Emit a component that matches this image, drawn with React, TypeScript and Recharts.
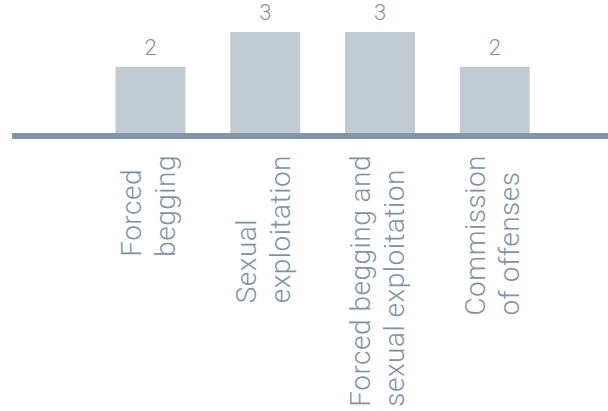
import { Bar, BarChart, LabelList, XAxis, YAxis } from 'recharts';

const categories = [
  ['Forced', 'begging'],
  ['Sexual', 'exploitation'],
  ['Forced begging and', 'sexual exploitation'],
  ['Commission', 'of offenses'],
];
const victims = [2, 3, 3, 2];

const data = categories.map((lines, i) => ({ name: lines.join(' '), lines, value: victims[i] }));

const BAR_COLOR = '#c1cbd4';
const AXIS_COLOR = '#8296a9';
const TEXT_COLOR = '#8093a6';
const LABEL_SIZE = 28;
const LABEL_SPACING = 0.5;

let ctx: CanvasRenderingContext2D | null = null;
const measure = (text: string) => {
  if (!ctx) ctx = document.createElement('canvas').getContext('2d');
  if (!ctx) return text.length * 14;
  ctx.font = `300 ${LABEL_SIZE}px Roboto`;
  return ctx.measureText(text).width + text.length * LABEL_SPACING;
};

const CategoryTick = (props: any) => {
  const { x, y, index } = props;
  const lines = categories[index] ?? [];
  const longest = Math.max(...lines.map(measure));
  return (
    <g transform={`translate(${x},${y}) rotate(-90)`}>
      {lines.map((line, i) => (
        <text
          key={line}
          x={-longest}
          y={-10 + i * 34}
          textAnchor="start"
          fill={TEXT_COLOR}
          fontFamily="Roboto"
          fontWeight={300}
          fontSize={LABEL_SIZE}
          letterSpacing={LABEL_SPACING}
        >
          {line}
        </text>
      ))}
    </g>
  );
};

export default function App() {
  return (
    <div style={{ position: 'absolute', left: 0, top: 0 }}>
      <BarChart width={608} height={411} data={data} margin={{ top: 32, right: 0, left: 12, bottom: 0 }}>
        <YAxis hide domain={[0, 3]} />
        <Bar dataKey="value" fill={BAR_COLOR} barSize={70} isAnimationActive={false}>
          <LabelList
            dataKey="value"
            position="top"
            offset={12}
            fill={TEXT_COLOR}
            fontFamily="Roboto"
            fontWeight={300}
            fontSize={22}
          />
        </Bar>
        <XAxis
          dataKey="name"
          height={275}
          padding={{ left: 81.5, right: 55.5 }}
          axisLine={{ stroke: AXIS_COLOR, strokeWidth: 6 }}
          tickLine={false}
          tickSize={0}
          tickMargin={19}
          interval={0}
          tick={<CategoryTick />}
        />
      </BarChart>
    </div>
  );
}
